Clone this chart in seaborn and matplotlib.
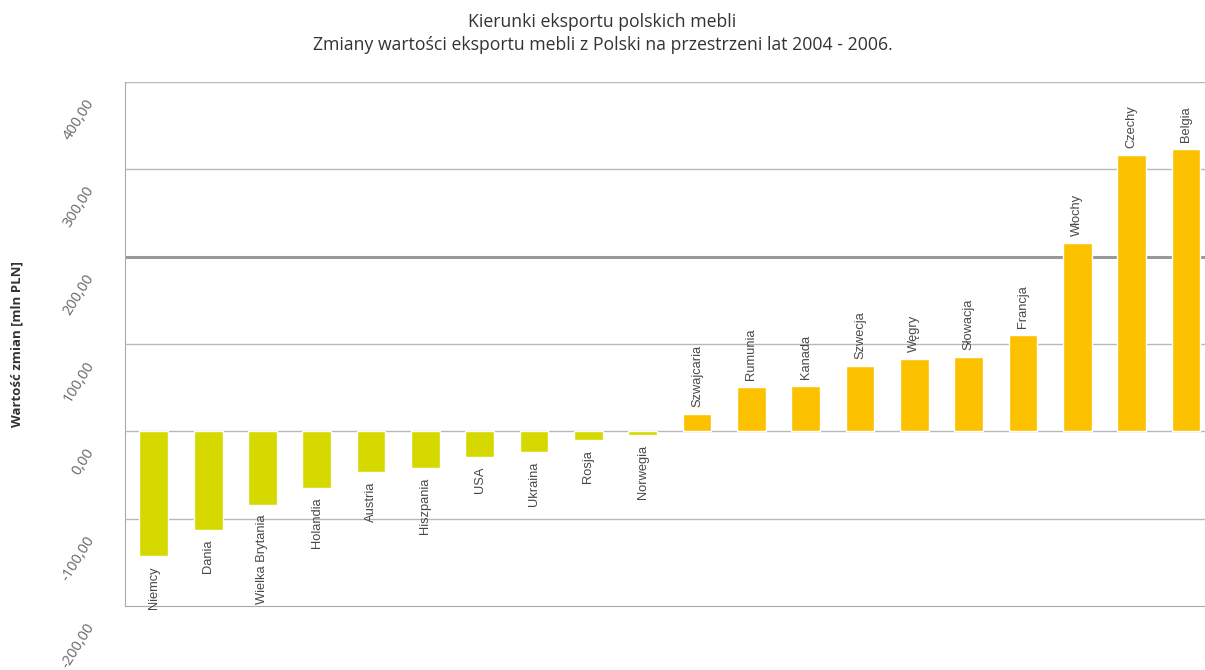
import pandas as pd
import matplotlib
matplotlib.use("Agg")
import matplotlib.pyplot as plt
import matplotlib.transforms as mtransforms
import seaborn as sns

# zmiany wartosci eksportu mebli 2004-2006 [mln PLN]
kraje = ["Niemcy", "Dania", "Wielka Brytania", "Holandia", "Austria", "Hiszpania",
         "USA", "Ukraina", "Rosja", "Norwegia", "Szwajcaria", "Rumunia", "Kanada",
         "Szwecja", "Węgry", "Słowacja", "Francja", "Włochy", "Czechy", "Belgia"]
zmiany = [-143, -113, -84, -65, -46, -42, -29, -24, -10, -4,
          20, 51, 52, 75, 83, 85, 110, 216, 316, 323]
yticks = [-200, -100, 0, 100, 200, 300, 400]
ytick_labels = ["-200,00", "-100,00", "0,00", "100,00", "200,00", "300,00", "400,00"]

data = pd.DataFrame({"kraj": kraje, "zmiana": zmiany})
data["znak"] = ["spadek" if v < 0 else "wzrost" for v in data["zmiana"]]

sns.set_style("white")
plt.rcParams["font.family"] = ["Liberation Sans", "DejaVu Sans"]

fig = plt.figure(figsize=(12.05, 6.70), dpi=100)
ax = fig.add_axes([125 / 1205, 0.0955, 1 - 125 / 1205, 0.7821])

sns.barplot(data=data, x="kraj", y="zmiana", hue="znak",
            palette={"spadek": "#d5d900", "wzrost": "#fcc200"},
            dodge=False, legend=False, width=0.53, saturation=1, ax=ax, zorder=3)

ax.set_ylim(-200, 400)
ax.set_xlim(-0.53, 19.35)
ax.set_yticks(yticks)
ax.set_yticklabels(ytick_labels, rotation=58, color="#666666", fontsize=10.5,
                   family=["Open Sans", "DejaVu Sans"])
ax.tick_params(axis="y", length=5, color="#aaaaaa", pad=12)
# etykiety osi Y przesuniete w dol, jak w oryginale
shift = mtransforms.ScaledTranslation(-4 / 100, -20 / 100, fig.dpi_scale_trans)
for lab in ax.get_yticklabels():
    lab.set_transform(lab.get_transform() + shift)

ax.set_xticks([])
ax.set_xlabel("")
ax.set_ylabel("Wartość zmian [mln PLN]", fontsize=9.5, fontweight="bold",
              color="#333333", family=["Open Sans", "DejaVu Sans"])
ax.yaxis.set_label_coords(-0.094, 0.5)

for y in yticks[1:]:
    ax.axhline(y, color="#b8b8b8", lw=1, zorder=1)
ax.axhline(200, color="#999999", lw=2.2, zorder=1)

ax.spines[["right", "top"]].set_visible(False)
ax.spines["left"].set_color("#aaaaaa")
ax.spines["bottom"].set_color("#aaaaaa")

# nazwy krajow przy koncach slupkow
for i, (kraj, v) in enumerate(zip(kraje, zmiany)):
    ax.annotate(kraj, xy=(i, v), xytext=(0, 5 if v > 0 else -7),
                textcoords="offset points", rotation=90, ha="center",
                va="bottom" if v > 0 else "top", fontsize=9.3, color="#484848")

fig.text(0.5, 0.95, "Kierunki eksportu polskich mebli\n"
         "Zmiany wartości eksportu mebli z Polski na przestrzeni lat 2004 - 2006.",
         ha="center", va="center", fontsize=12.7, color="#333333",
         family=["Open Sans", "DejaVu Sans"], linespacing=1.4)

fig.savefig("out.png", dpi=100)
